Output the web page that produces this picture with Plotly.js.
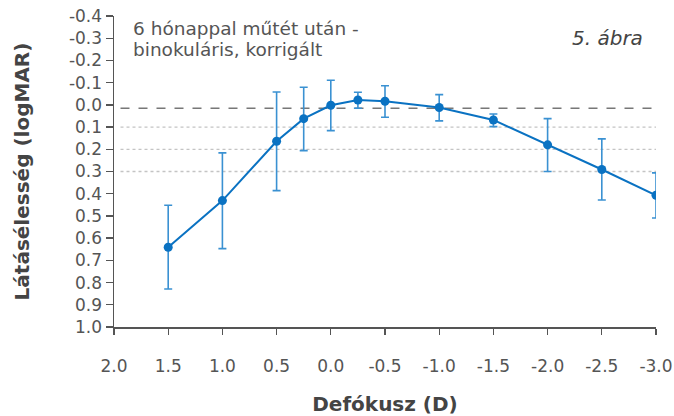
<!DOCTYPE html>
<html>
<head>
<meta charset="utf-8">
<script src="https://cdn.plot.ly/plotly-3.0.1.min.js"></script>
<style>html,body{margin:0;padding:0;background:#fff;}#chart{width:674px;height:416px;}</style>
</head>
<body>
<div id="chart"></div>
<script>
// Defocus (D) and logMAR visual acuity (mean, lower/upper error bar ends)
const defocus = [1.5, 1.0, 0.5, 0.25, 0.0, -0.25, -0.5, -1.0, -1.5, -2.0, -2.5, -3.0];
const meanLogMAR = [0.641, 0.431, 0.164, 0.062, 0.002, -0.022, -0.016, 0.012, 0.068, 0.180, 0.291, 0.407];
const barTop = [0.452, 0.216, -0.058, -0.079, -0.111, -0.057, -0.086, -0.046, 0.041, 0.062, 0.153, 0.306];
const barBottom = [0.829, 0.647, 0.386, 0.206, 0.116, 0.015, 0.056, 0.072, 0.098, 0.300, 0.428, 0.509];
const xTicks = [2.0, 1.5, 1.0, 0.5, 0.0, -0.5, -1.0, -1.5, -2.0, -2.5, -3.0];
const xTickText = ['2.0', '1.5', '1.0', '0.5', '0.0', '-0.5', '-1.0', '-1.5', '-2.0', '-2.5', '-3.0'];
const yTicks = [-0.4, -0.3, -0.2, -0.1, 0.0, 0.1, 0.2, 0.3, 0.4, 0.5, 0.6, 0.7, 0.8, 0.9, 1.0];
const yTickText = ['-0.4', '-0.3', '-0.2', '-0.1', '0.0', '0.1', '0.2', '0.3', '0.4', '0.5', '0.6', '0.7', '0.8', '0.9', '1.0'];
const gridLevels = [0.1, 0.2, 0.3];
const refLevel = 0.015;

const FONT = '"DejaVu Sans", sans-serif';
const errPlus = barBottom.map((b, i) => b - meanLogMAR[i]);
const errMinus = meanLogMAR.map((m, i) => m - barTop[i]);

const trace = {
  x: defocus, y: meanLogMAR, type: 'scatter', mode: 'lines+markers',
  line: {color: '#0a72c2', width: 2},
  marker: {color: '#0a72c2', size: 9},
  error_y: {type: 'data', symmetric: false, array: errPlus, arrayminus: errMinus,
            color: '#3a91d2', thickness: 1.6, width: 4},
  hoverinfo: 'none', showlegend: false
};

const shapes = gridLevels.map(v => ({
  type: 'line', xref: 'x', yref: 'y', x0: 1.94, x1: -3.0, y0: v, y1: v,
  line: {color: '#c4c4c4', width: 1.3, dash: 'dot'}, layer: 'below'
}));
shapes.push({type: 'line', xref: 'x', yref: 'y', x0: 1.94, x1: -3.0, y0: refLevel, y1: refLevel,
  line: {color: '#777', width: 1.6, dash: 'dash'}, layer: 'below'});

const layout = {
  width: 674, height: 416,
  margin: {l: 114, r: 18, t: 16, b: 89},
  paper_bgcolor: '#fff', plot_bgcolor: '#fff',
  font: {family: FONT, color: '#555', size: 15},
  xaxis: {
    range: [2.0, -3.0], tickvals: xTicks, ticktext: xTickText,
    showgrid: false, zeroline: false, showline: true, linecolor: '#555', linewidth: 1.5,
    ticks: 'outside', ticklen: 6, tickwidth: 1.3, tickcolor: '#555',
    ticklabelstandoff: 17,
    tickfont: {family: FONT, size: 17, color: '#555'},
    title: {text: 'Defókusz (D)', font: {family: FONT, size: 20, color: '#444', weight: 'bold'}, standoff: 22}
  },
  yaxis: {
    range: [1.0, -0.4], tickvals: yTicks, ticktext: yTickText,
    showgrid: false, zeroline: false, showline: true, linecolor: '#555', linewidth: 1.5,
    ticks: 'outside', ticklen: 7, tickwidth: 1.3, tickcolor: '#555',
    tickfont: {family: FONT, size: 17, color: '#555'},
    title: {text: 'Látásélesség (logMAR)', font: {family: FONT, size: 20, color: '#444', weight: 'bold'}, standoff: 34}
  },
  shapes: shapes,
  annotations: [
    {xref: 'paper', yref: 'paper', x: 0.031, y: 0.961, xanchor: 'left', yanchor: 'middle', align: 'left',
     text: '6 hónappal műtét után -', showarrow: false,
     font: {family: FONT, size: 18.5, color: '#555'}},
    {xref: 'paper', yref: 'paper', x: 0.031, y: 0.891, xanchor: 'left', yanchor: 'middle', align: 'left',
     text: 'binokuláris, korrigált', showarrow: false,
     font: {family: FONT, size: 18.5, color: '#555'}},
    {xref: 'paper', yref: 'paper', x: 0.98, y: 0.929, xanchor: 'right', yanchor: 'middle',
     text: '<i>5. ábra</i>', showarrow: false,
     font: {family: FONT, size: 20, color: '#444'}}
  ]
};

Plotly.newPlot('chart', [trace], layout, {displayModeBar: false, staticPlot: true});
</script>
</body>
</html>
